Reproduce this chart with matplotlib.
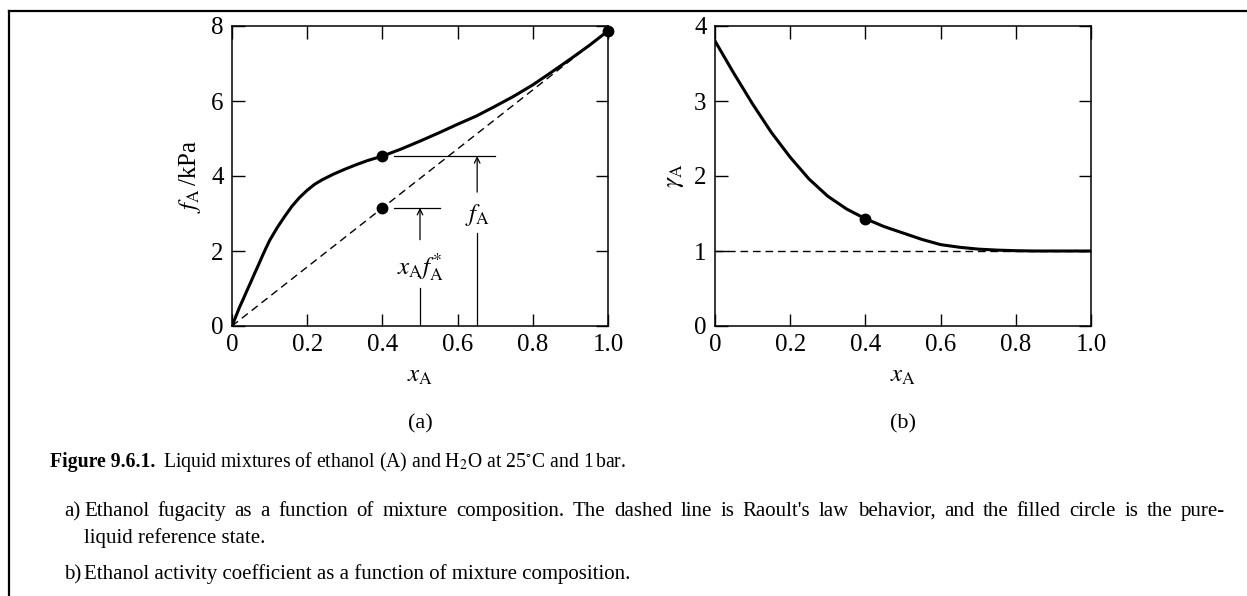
"""
Figure 9.6.1: ethanol (A) + H2O at 25 C and 1 bar
(a) fugacity of ethanol, (b) activity coefficient of ethanol
"""

import matplotlib
matplotlib.use("Agg")
import matplotlib.pyplot as plt
from matplotlib.lines import Line2D

plt.rcParams['font.family'] = ['Liberation Serif', 'DejaVu Serif']
plt.rcParams['mathtext.fontset'] = 'stix'
plt.rcParams['axes.linewidth'] = 1.1

# (a) ethanol fugacity / kPa vs mole fraction
x_fug = [0, 0.01, 0.02, 0.03, 0.04, 0.05, 0.06, 0.07, 0.08, 0.09, 0.10,
         0.12, 0.14, 0.16, 0.18, 0.20, 0.22, 0.24, 0.27, 0.30, 0.33, 0.36,
         0.40, 0.45, 0.50, 0.55, 0.60, 0.65, 0.70, 0.75, 0.80, 0.85, 0.90,
         0.95, 1.0]
f_fug = [0, 0.25, 0.50, 0.72, 0.95, 1.17, 1.40, 1.62, 1.85, 2.07, 2.28,
         2.62, 2.92, 3.20, 3.43, 3.62, 3.78, 3.90, 4.05, 4.18, 4.30, 4.41,
         4.53, 4.72, 4.93, 5.15, 5.38, 5.60, 5.86, 6.13, 6.43, 6.77, 7.12,
         7.48, 7.87]
f_pure = 7.87                      # f_A* of pure liquid ethanol
raoult_x = [0, 1.0]
raoult_f = [0, f_pure]
pts_a_x = [0.4, 0.4, 1.0]
pts_a_y = [4.53, 3.15, 7.87]

# (b) activity coefficient
x_gam = [0, 0.05, 0.10, 0.15, 0.20, 0.25, 0.30, 0.35, 0.40, 0.45, 0.50,
         0.55, 0.60, 0.65, 0.70, 0.75, 0.80, 0.85, 0.90, 1.0]
gamma = [3.80, 3.37, 2.96, 2.58, 2.25, 1.96, 1.73, 1.56, 1.43, 1.325, 1.24,
         1.155, 1.085, 1.05, 1.025, 1.012, 1.004, 1.0, 1.0, 1.0]
pts_b_x = [0.4]
pts_b_y = [1.43]

xticks = [0, 0.2, 0.4, 0.6, 0.8, 1.0]
xtick_labels = ['0', '0.2', '0.4', '0.6', '0.8', '1.0']

FS = 18
W, H = 1247, 596
fig = plt.figure(figsize=(W / 100, H / 100), dpi=100)

def px_axes(x0, x1, y0, y1):
    return fig.add_axes([x0 / W, 1 - y1 / H, (x1 - x0) / W, (y1 - y0) / H])

def style(ax):
    ax.set_xlim(0, 1)
    ax.set_xticks(xticks)
    ax.set_xticklabels(xtick_labels)
    ax.tick_params(direction='in', length=9, width=1, top=True, right=True,
                   labelsize=FS)
    ax.tick_params(axis='x', pad=6)
    ax.tick_params(axis='y', pad=6)
    ax.set_xlabel(r'$x_{\rm A}$', fontsize=FS, labelpad=6)

# ---- (a)
ax1 = px_axes(232, 608, 26, 326)
style(ax1)
ax1.set_ylim(0, 8)
ax1.set_yticks([0, 2, 4, 6, 8])
ax1.set_ylabel(r'$f_{\rm A}\,$/kPa', fontsize=FS, labelpad=6)
ax1.plot(raoult_x, raoult_f, color='black', lw=1, dashes=(5.5, 3.5))
ax1.plot(x_fug, f_fug, color='black', lw=2.2, solid_capstyle='round',
         solid_joinstyle='round')
ax1.plot(pts_a_x, pts_a_y, 'o', color='black', ms=7.5, clip_on=False, zorder=5)

# f_A marker
ax1.plot([0.432, 0.70], [4.53, 4.53], color='black', lw=0.9)
ax1.plot([0.652, 0.652], [0, 2.48], color='black', lw=0.9)
ax1.annotate('', xy=(0.652, 4.53), xytext=(0.652, 3.57),
             arrowprops=dict(arrowstyle='->', lw=0.9, color='black',
                             shrinkA=0, shrinkB=0, mutation_scale=10))
ax1.text(0.652, 2.95, r'$f_{\rm A}$', fontsize=FS, ha='center', va='center')

# x_A f_A* marker
ax1.plot([0.432, 0.552], [3.15, 3.15], color='black', lw=0.9)
ax1.plot([0.50, 0.50], [0, 1.02], color='black', lw=0.9)
ax1.annotate('', xy=(0.50, 3.15), xytext=(0.50, 2.3),
             arrowprops=dict(arrowstyle='->', lw=0.9, color='black',
                             shrinkA=0, shrinkB=0, mutation_scale=10))
ax1.text(0.50, 1.58, r'$x_{\rm A}f_{\rm A}^{*}$', fontsize=FS,
         ha='center', va='center')

# ---- (b)
ax2 = px_axes(715, 1091, 26, 326)
style(ax2)
ax2.set_ylim(0, 4)
ax2.set_yticks([0, 1, 2, 3, 4])
ax2.set_ylabel(r'$\gamma_{\rm A}$', fontsize=FS, labelpad=6)
ax2.axhline(1.0, color='black', lw=1, dashes=(5.5, 3.5))
ax2.plot(x_gam, gamma, color='black', lw=2.2, solid_capstyle='round',
         solid_joinstyle='round')
ax2.plot(pts_b_x, pts_b_y, 'o', color='black', ms=7.5, clip_on=False, zorder=5)

fig.text(420 / W, 1 - 424 / H, '(a)', fontsize=16, ha='center', va='center')
fig.text(903 / W, 1 - 424 / H, '(b)', fontsize=16, ha='center', va='center')

# caption
CFS = 15
cap_bold = fig.text(50 / W, 1 - 467 / H, 'Figure 9.6.1.', fontsize=14.2,
                    fontweight='bold', va='baseline')
renderer = fig.canvas.get_renderer()
bb = cap_bold.get_window_extent(renderer)
fig.text((bb.x1 + 8) / W, 1 - 467 / H,
         r'Liquid mixtures of ethanol (A) and H$_2$O at 25$^{\circ}$C and 1$\,$bar.',
         fontsize=14.2, va='baseline')


def justified(words, x0, x1, y):
    """lay words out on one line so that it fills x0..x1 (pixels)"""
    items = [fig.text(0, 1 - y / H, w, fontsize=CFS, va='baseline')
             for w in words]
    widths = [t.get_window_extent(renderer).width for t in items]
    gap = (x1 - x0 - sum(widths)) / (len(words) - 1)
    x = x0
    for t, w in zip(items, widths):
        t.set_x(x / W)
        x += w + gap


fig.text(64 / W, 1 - 516 / H, 'a)', fontsize=CFS, va='baseline')
justified(("Ethanol fugacity as a function of mixture composition. The dashed "
           "line is Raoult's law behavior, and the filled circle is the pure-").split(),
          84, 1225, 516)
fig.text(84 / W, 1 - 543 / H, 'liquid reference state.', fontsize=CFS,
         va='baseline')
fig.text(64 / W, 1 - 579 / H, 'b)', fontsize=CFS, va='baseline')
fig.text(84 / W, 1 - 579 / H,
         'Ethanol activity coefficient as a function of mixture composition.',
         fontsize=CFS, va='baseline')

# page border (top and left only)
fig.add_artist(Line2D([9 / W, 1], [1 - 11 / H, 1 - 11 / H], color='black',
                      lw=1.6, transform=fig.transFigure))
fig.add_artist(Line2D([9 / W, 9 / W], [0, 1 - 11 / H], color='black',
                      lw=1.6, transform=fig.transFigure))

fig.savefig('out.png', dpi=100)
